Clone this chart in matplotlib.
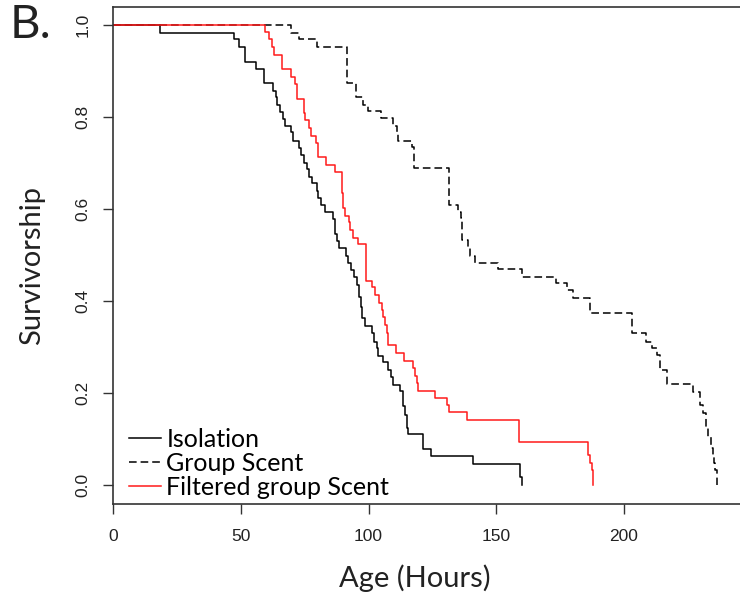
import matplotlib.pyplot as plt

# Kaplan-Meier style survivorship, ages in hours
iso_t = [0, 18.3, 47.3, 49.4, 51.7, 55.9, 59.2, 62.4, 63.6, 64.2,
         65.4, 66.3, 67.4, 69.5, 70.5, 72.6, 73.7, 74.7, 75.7, 76.8,
         77.8, 79.6, 80.3, 81.2, 82.9, 86.2, 86.8, 87.5, 88.5, 91.1,
         92.1, 93.2, 94.3, 95.4, 96.4, 96.9, 97.6, 98.6, 101.2, 102.1,
         103.2, 103.8, 105.8, 107.7, 108.6, 109.7, 112.3, 113.4, 114.3, 114.9,
         115.6, 121.2, 124.3, 140.8, 159.3, 160.0]
iso_s = [1.0, 0.984, 0.969, 0.952, 0.921, 0.904, 0.875, 0.858, 0.843, 0.826,
         0.811, 0.797, 0.780, 0.767, 0.749, 0.733, 0.718, 0.700, 0.687, 0.671,
         0.657, 0.640, 0.624, 0.609, 0.593, 0.578, 0.546, 0.530, 0.515, 0.498,
         0.483, 0.468, 0.453, 0.435, 0.410, 0.388, 0.363, 0.346, 0.330, 0.312,
         0.298, 0.281, 0.267, 0.251, 0.235, 0.218, 0.204, 0.172, 0.153, 0.124,
         0.112, 0.078, 0.064, 0.046, 0.019, 0.0]

grp_t = [0, 69.5, 72.9, 79.7, 91.7, 95.1, 98.0, 99.9, 104.9, 109.7,
         111.0, 111.6, 116.9, 117.8, 131.6, 135.1, 136.0, 136.5, 139.1, 139.7,
         141.7, 150.8, 160.0, 173.4, 177.6, 180.2, 186.7, 203.0, 208.5, 210.9,
         213.0, 214.1, 216.8, 227.2, 229.8, 231.1, 232.2, 233.1, 234.0, 234.8,
         235.3, 235.8, 236.6]
grp_s = [1.0, 0.983, 0.970, 0.952, 0.875, 0.845, 0.827, 0.814, 0.798, 0.780,
         0.765, 0.749, 0.736, 0.689, 0.610, 0.595, 0.580, 0.533, 0.515, 0.498,
         0.484, 0.470, 0.453, 0.439, 0.425, 0.407, 0.375, 0.332, 0.312, 0.298,
         0.283, 0.251, 0.220, 0.203, 0.175, 0.157, 0.127, 0.106, 0.080, 0.065,
         0.048, 0.033, 0.0]

filt_t = [0, 59.6, 60.8, 62.0, 62.9, 66.2, 69.7, 71.0, 71.8, 72.1,
          74.6, 74.8, 75.0, 76.8, 77.3, 79.3, 80.3, 83.3, 86.8, 89.5,
          89.9, 90.8, 92.5, 92.9, 93.8, 96.0, 99.0, 101.2, 102.5, 104.2,
          105.1, 105.8, 106.4, 107.1, 107.7, 110.6, 113.9, 117.3, 118.2, 119.0,
          119.5, 126.0, 130.6, 131.3, 138.4, 159.0, 186.1, 186.7, 187.4, 188.0]
filt_s = [1.0, 0.985, 0.970, 0.952, 0.935, 0.904, 0.888, 0.872, 0.856, 0.840,
          0.825, 0.810, 0.794, 0.776, 0.759, 0.743, 0.714, 0.696, 0.682, 0.635,
          0.602, 0.585, 0.573, 0.555, 0.537, 0.525, 0.443, 0.430, 0.414, 0.396,
          0.381, 0.365, 0.348, 0.332, 0.305, 0.287, 0.270, 0.254, 0.238, 0.222,
          0.206, 0.190, 0.175, 0.159, 0.143, 0.095, 0.066, 0.048, 0.033, 0.0]

groups = ['Isolation', 'Group Scent', 'Filtered group Scent']
x_ticks = [0, 50, 100, 150, 200]
y_ticks = [0.0, 0.2, 0.4, 0.6, 0.8, 1.0]

plt.rcParams['font.family'] = 'Liberation Sans'
label_font = 'Lato'

W, H = 740, 602
fig = plt.figure(figsize=(W / 100, H / 100), dpi=100)
left, right, top, bottom = 113.3, 741, 6.8, 503.7
ax = fig.add_axes([left / W, 1 - bottom / H, (right - left) / W, (bottom - top) / H])

ax.step(iso_t, iso_s, where='post', color='black', lw=1.1, label=groups[0])
ax.step(grp_t, grp_s, where='post', color='black', lw=1.1,
        linestyle=(0, (5, 2.6)), label=groups[1])
ax.step(filt_t, filt_s, where='post', color='#ff1a1a', lw=1.1, label=groups[2])

ax.set_xlim(0, (right - left) / 2.553)
ax.set_ylim(-0.04, 1.04)
ax.set_xticks(x_ticks)
ax.set_xticklabels([str(v) for v in x_ticks])
ax.set_yticks(y_ticks)
ax.set_yticklabels(['%.1f' % v for v in y_ticks])

for side in ['left', 'bottom', 'top']:
    ax.spines[side].set_color('#333333')
    ax.spines[side].set_linewidth(1.2)
ax.spines['right'].set_visible(False)

ax.tick_params(axis='both', length=7.2, width=1.0, color='#333333',
               labelsize=12.5, labelcolor='#222222')
ax.tick_params(axis='x', pad=11)
ax.tick_params(axis='y', pad=9, labelrotation=90)
for lbl in ax.get_yticklabels():
    lbl.set_va('center')

leg = ax.legend(loc='lower left', bbox_to_anchor=(0.025, 0.009), frameon=False,
                prop={'family': label_font, 'size': 18}, handlelength=1.3,
                handletextpad=0.2, labelspacing=0.04, borderpad=0, borderaxespad=0)

fig.text(415 / W, 1 - 578 / H, 'Age (Hours)', family=label_font, fontsize=21,
         ha='center', va='center', color='#222222')
fig.text(32 / W, 1 - 265 / H, 'Survivorship', family=label_font, fontsize=21,
         ha='center', va='center', rotation=90, color='#222222')
fig.text(10 / W, 1 - 4 / H, 'B.', family=label_font, fontsize=34,
         ha='left', va='top', color='#222222')

fig.savefig('out.png', dpi=100)
